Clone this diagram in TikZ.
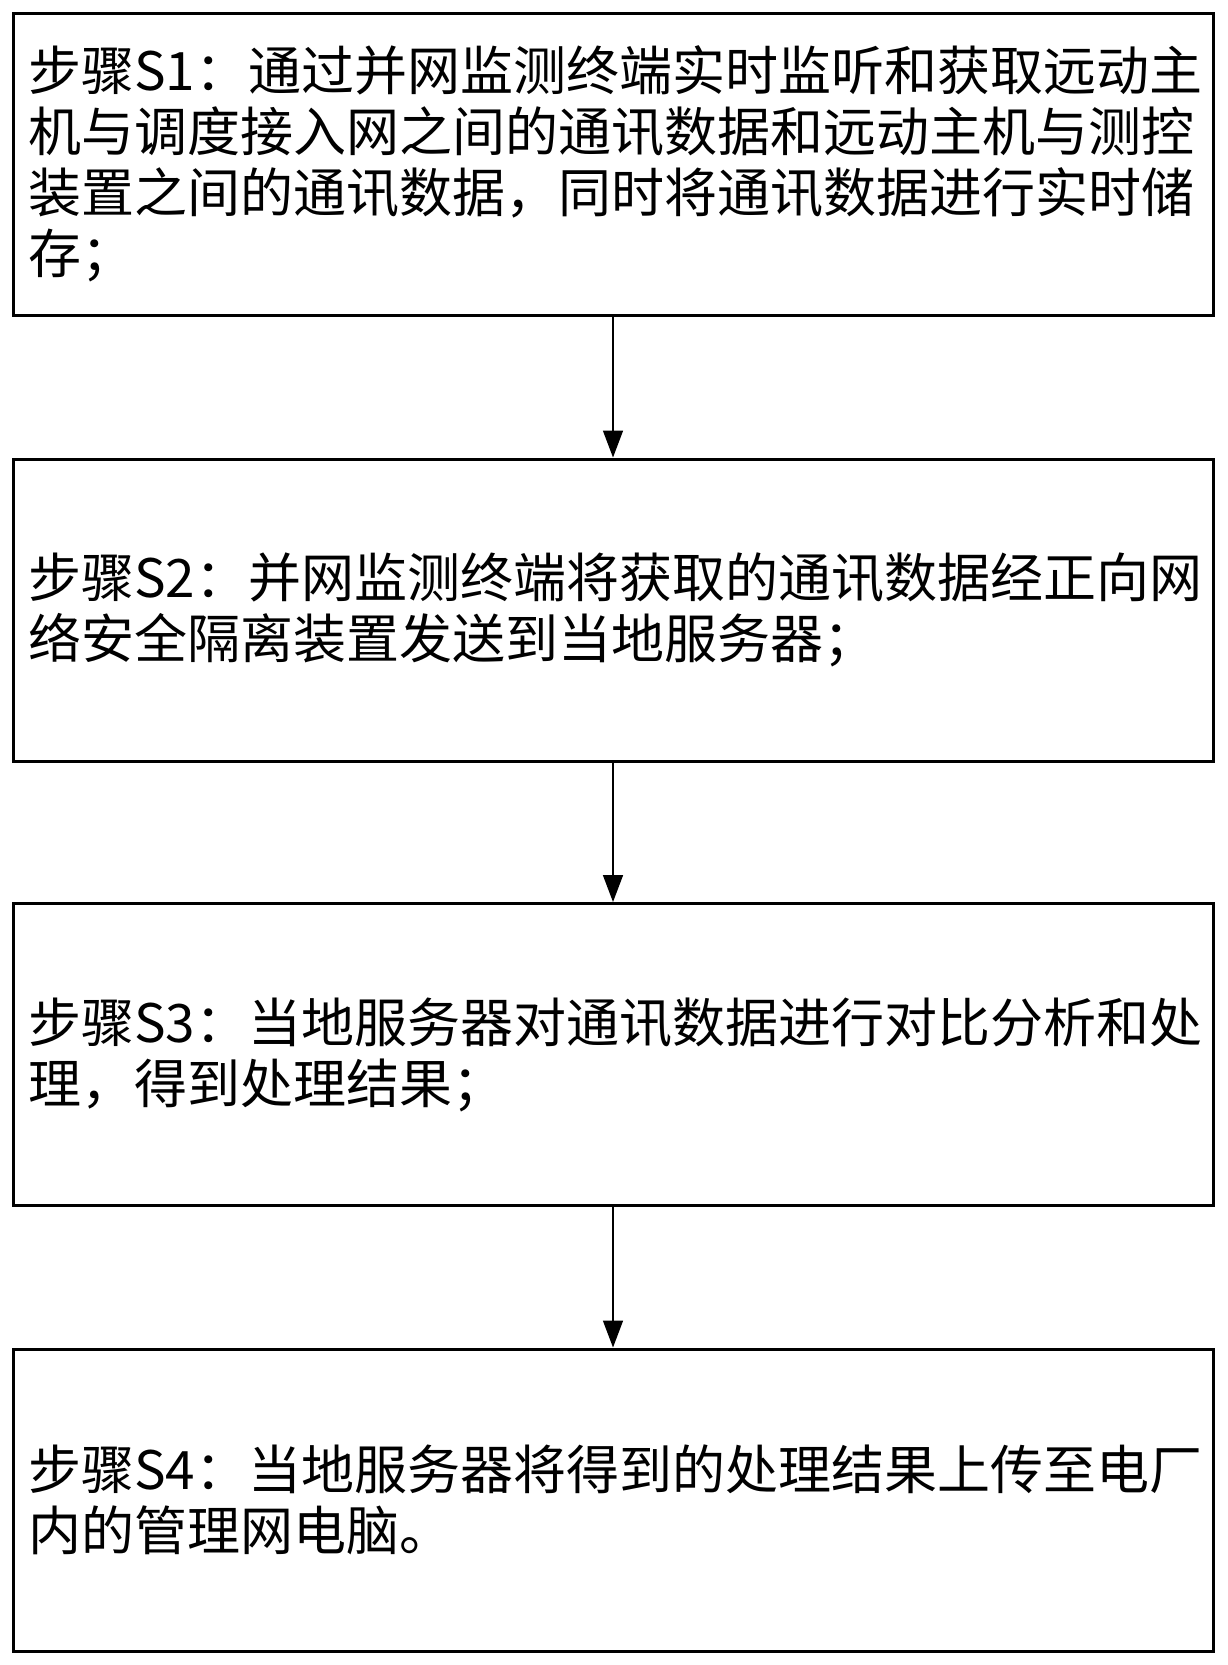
\documentclass[tikz,border=0pt]{standalone}
\usepackage{fontspec}
\usetikzlibrary{arrows.meta}
\newfontfamily\cjk{Noto Sans CJK SC}

\tikzset{
  passo/.style={draw, line width=3pt, minimum width=1200pt, minimum height=302pt,
    text width=1170pt, inner xsep=15pt, align=left,
    font=\cjk\fontsize{53}{61}\selectfont},
  freccia/.style={-{Triangle[width=20pt,length=27pt]}, line width=1.6pt}
}

\begin{document}
\begin{tikzpicture}[x=1pt, y=-1pt]
    \useasboundingbox[fill=white] (0,0) rectangle (1228,1665);
    % passi S1-S4
    \node[passo] (s1) at (613,164) {步骤S1：通过并网监测终端实时监听和获取远动主\\机与调度接入网之间的通讯数据和远动主机与测控\\装置之间的通讯数据，同时将通讯数据进行实时储\\存；};
    \node[passo] (s2) at (613,610) {步骤S2：并网监测终端将获取的通讯数据经正向网\\络安全隔离装置发送到当地服务器；};
    \node[passo] (s3) at (613,1054.5) {步骤S3：当地服务器对通讯数据进行对比分析和处\\理，得到处理结果；};
    \node[passo] (s4) at (613,1500) {步骤S4：当地服务器将得到的处理结果上传至电厂\\内的管理网电脑。};
    % frecce
    \draw[freccia] (s1) -- (s2);
    \draw[freccia] (s2) -- (s3);
    \draw[freccia] (s3) -- (s4);
\end{tikzpicture}
\end{document}
